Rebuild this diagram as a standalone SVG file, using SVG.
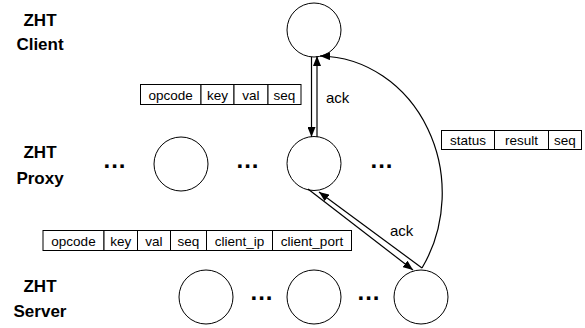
<svg xmlns="http://www.w3.org/2000/svg" width="585" height="328" viewBox="0 0 585 328">
<defs>
<marker id="ah" markerUnits="userSpaceOnUse" markerWidth="10" markerHeight="8" refX="10" refY="4" orient="auto">
<path d="M0,0 L10,4 L0,8 z" fill="#000"/>
</marker>
<style>
.node{fill:#fff;stroke:#000;stroke-width:1}
.lbl{font-family:"Liberation Sans",Arial,sans-serif;font-weight:bold;font-size:17px;text-anchor:middle;fill:#000}
.dots{font-family:"Liberation Sans",Arial,sans-serif;font-weight:bold;font-size:24px;text-anchor:middle;fill:#000;letter-spacing:1px}
.cell{fill:#fff;stroke:#000;stroke-width:1}
.ct{font-family:"Liberation Sans",Arial,sans-serif;font-size:13.5px;text-anchor:middle;fill:#000}
.ack{font-family:"Liberation Sans",Arial,sans-serif;font-size:15px;fill:#000}
.con{fill:none;stroke:#000;stroke-width:1.2;marker-end:url(#ah)}
</style>
</defs>
<rect width="585" height="328" fill="#fff"/>

<g id="labels">
<text class="lbl" x="40" y="26">ZHT</text>
<text class="lbl" x="40" y="50">Client</text>
<text class="lbl" x="40" y="158">ZHT</text>
<text class="lbl" x="40" y="184">Proxy</text>
<text class="lbl" x="40" y="292">ZHT</text>
<text class="lbl" x="40" y="317">Server</text>
</g>

<g id="client"><circle class="node" cx="314" cy="30" r="27"/></g>
<g id="proxy1"><circle class="node" cx="181" cy="164" r="27"/></g>
<g id="proxy2"><circle class="node" cx="314" cy="163.5" r="27"/></g>
<g id="server1"><circle class="node" cx="206" cy="297" r="27"/></g>
<g id="server2"><circle class="node" cx="314" cy="297" r="27"/></g>
<g id="server3"><circle class="node" cx="421" cy="297" r="27"/></g>

<g id="ellipses">
<text class="dots" x="115" y="168">...</text>
<text class="dots" x="248" y="168">...</text>
<text class="dots" x="382" y="168">...</text>
<text class="dots" x="262" y="300">...</text>
<text class="dots" x="369" y="300">...</text>
</g>

<g id="packet-client">
<rect class="cell" x="140.5" y="84.5" width="60.5" height="20"/>
<rect class="cell" x="201" y="84.5" width="33" height="20"/>
<rect class="cell" x="234" y="84.5" width="34" height="20"/>
<rect class="cell" x="268" y="84.5" width="33" height="20"/>
<text class="ct" x="170.7" y="99.5">opcode</text>
<text class="ct" x="217.5" y="99.5">key</text>
<text class="ct" x="251" y="99.5">val</text>
<text class="ct" x="284.5" y="99.5">seq</text>
</g>

<g id="packet-status">
<rect class="cell" x="441.5" y="130.5" width="53" height="19"/>
<rect class="cell" x="494.5" y="130.5" width="54" height="19"/>
<rect class="cell" x="548.5" y="130.5" width="33" height="19"/>
<text class="ct" x="468" y="145">status</text>
<text class="ct" x="521.5" y="145">result</text>
<text class="ct" x="565" y="145">seq</text>
</g>

<g id="packet-server">
<rect class="cell" x="43" y="230.5" width="61" height="20"/>
<rect class="cell" x="104" y="230.5" width="33.5" height="20"/>
<rect class="cell" x="137.5" y="230.5" width="33" height="20"/>
<rect class="cell" x="170.5" y="230.5" width="36" height="20"/>
<rect class="cell" x="206.5" y="230.5" width="66" height="20"/>
<rect class="cell" x="272.5" y="230.5" width="79" height="20"/>
<text class="ct" x="73.5" y="245.5">opcode</text>
<text class="ct" x="120.7" y="245.5">key</text>
<text class="ct" x="154" y="245.5">val</text>
<text class="ct" x="188.5" y="245.5">seq</text>
<text class="ct" x="239.5" y="245.5">client_ip</text>
<text class="ct" x="312" y="245.5">client_port</text>
</g>

<g id="connectors">
<line class="con" x1="311.5" y1="57" x2="311.5" y2="137"/>
<line class="con" x1="317" y1="137" x2="317" y2="56"/>
<line class="con" x1="308" y1="189" x2="413" y2="270"/>
<line class="con" x1="422" y1="268" x2="319" y2="192"/>
<path class="con" d="M422,268 A124,137 0 0 0 320,56"/>
<text class="ack" x="326" y="103">ack</text>
<text class="ack" x="390" y="236">ack</text>
</g>
</svg>
